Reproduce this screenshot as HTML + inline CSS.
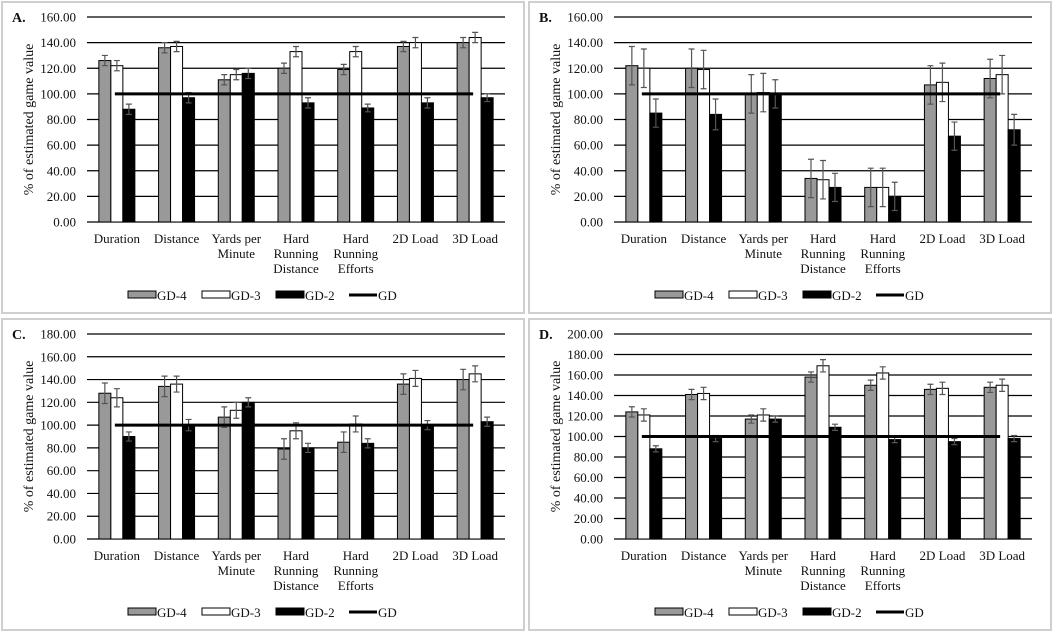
<!DOCTYPE html>
<html><head><meta charset="utf-8"><style>
html,body{margin:0;padding:0;background:#fff;}
#wrap{position:relative;width:1054px;height:634px;overflow:hidden;background:#fff;font-family:"Liberation Serif","DejaVu Serif",serif;}
svg{position:absolute;}
</style></head><body>
<div id="wrap"></div>
<script>
const categories=["Duration","Distance","Yards per|Minute","Hard|Running|Distance","Hard|Running|Efforts","2D Load","3D Load"];
const panelLabels=["A.","B.","C.","D."];
const panelMax=[160,160,180,200];
const aGD4=[126,136,111,120,119,137,140], aGD3=[122,137,115,133,133,140,144], aGD2=[88,97,116,93,89,93,97];
const aE4=[4,4,4,4,4,4,4], aE3=[4,4,4,4,4,4,4], aE2=[4,4,4,4,3,4,3];
const bGD4=[122,120,100,34,27,107,112], bGD3=[120,119,101,33,27,109,115], bGD2=[85,84,100,27,20,67,72];
const bE4=[15,15,15,15,15,15,15], bE3=[15,15,15,15,15,15,15], bE2=[11,12,11,11,11,11,12];
const cGD4=[128,134,107,79,85,136,140], cGD3=[124,136,113,95,101,141,145], cGD2=[90,100,120,80,84,100,103];
const cE4=[9,9,9,9,9,9,9], cE3=[8,7,7,7,7,7,7], cE2=[4,5,4,4,4,4,4];
const dGD4=[124,141,117,158,150,146,148], dGD3=[121,142,121,169,162,147,150], dGD2=[88,98,117,109,97,95,98];
const dE4=[5,5,4,5,5,5,5], dE3=[6,6,6,6,6,6,6], dE2=[3,3,3,3,3,3,3];
const gdValue=100;
const panels=[[aGD4,aGD3,aGD2,aE4,aE3,aE2],[bGD4,bGD3,bGD2,bE4,bE3,bE2],[cGD4,cGD3,cGD2,cE4,cE3,cE2],[dGD4,dGD3,dGD2,dE4,dE3,dE2]];
const offsets=[[0,0],[527,0],[0,317],[527,317]];
const NS="http://www.w3.org/2000/svg";
const FF='Liberation Serif, DejaVu Serif, serif';
function mk(tag,attrs,parent){const e=document.createElementNS(NS,tag);for(const k in attrs)e.setAttribute(k,attrs[k]);if(tag==='text'){e.setAttribute('font-family',FF);e.setAttribute('fill','#111');}parent.appendChild(e);return e;}
const wrap=document.getElementById('wrap');
panels.forEach((p,pi)=>{
  const svg=mk('svg',{width:527,height:317,viewBox:"0 0 527 317"},wrap);
  svg.style.left=offsets[pi][0]+'px';svg.style.top=offsets[pi][1]+'px';
  
  
  mk('rect',{x:2,y:2,width:522,height:311,fill:'none',stroke:'#cfcfcf','stroke-width':2},svg);
  const L=87,R=505,T=17,B=222,max=panelMax[pi];
  const y=v=>B-(v/max)*(B-T);
  const bw=(R-L)/7;
  const x=i=>L+bw*i+bw/2;
  const lab=mk('text',{x:12,y:22,'font-size':14,'font-weight':'bold'},svg);lab.textContent=panelLabels[pi];
  
  for(let t=0;t<=max;t+=20){
    const g=mk('line',{x1:L,x2:R,y1:y(t),y2:y(t),stroke:'#000','stroke-width':1.2},svg);
    
    const tl=mk('text',{x:76,y:y(t)+4.5,'font-size':13,'text-anchor':'end'},svg);tl.textContent=t.toFixed(2);
    
  }
  const yt=mk('text',{x:0,y:0,'font-size':14,'text-anchor':'middle',transform:`translate(33,${(T+B)/2}) rotate(-90)`},svg);
  yt.textContent='% of estimated game value';
  
  const fills=['#999','#fff','#000'];
  const names=['gd-4','gd-3','gd-2'];
  for(let i=0;i<7;i++){
    for(let s=0;s<3;s++){
      const v=p[s][i],e=p[s+3][i];
      const bx=x(i)-18+s*12;
      const r=mk('rect',{x:bx,y:y(v),width:12,height:B-y(v),fill:fills[s],stroke:'#000','stroke-width':1},svg);
      
      const cx=bx+6;
      const eb=mk('path',{d:`M${cx},${y(v+e)}V${y(v-e)}M${cx-3},${y(v+e)}H${cx+3}M${cx-3},${y(v-e)}H${cx+3}`,stroke:'#555','stroke-width':1.2,fill:'none'},svg);
      
    }
    const lines=categories[i].split('|');
    lines.forEach((ln,k)=>{const t=mk('text',{x:x(i),y:243+k*15,'font-size':13,'text-anchor':'middle'},svg);t.textContent=ln;
      });
  }
  const gl=mk('line',{x1:x(0)-2,x2:x(6)-2,y1:y(gdValue),y2:y(gdValue),stroke:'#000','stroke-width':3},svg);
  
  const lg=[['GD-4',128],['GD-3',202],['GD-2',276],['GD',349]];
  lg.forEach((l,k)=>{
    const g=mk('g',{},svg);
    if(k<3) mk('rect',{x:l[1],y:291,width:28,height:7,fill:fills[k],stroke:'#000','stroke-width':1},g);
    else mk('line',{x1:l[1],x2:l[1]+28,y1:295,y2:295,stroke:'#000','stroke-width':3},g);
    const t=mk('text',{x:l[1]+29,y:300,'font-size':13},g);t.textContent=l[0];
  });
});
</script>
</body></html>
